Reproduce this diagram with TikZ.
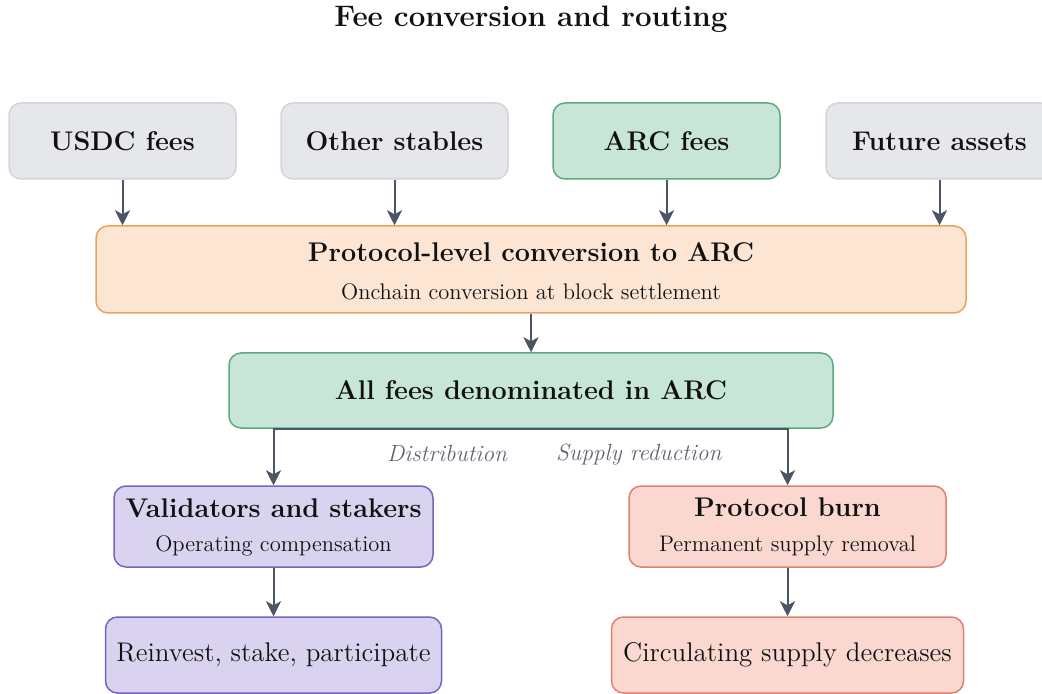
\documentclass[tikz,border=0pt]{standalone}
\usetikzlibrary{arrows.meta}
\definecolor{grayfill}{HTML}{E5E7EB}
\definecolor{graydraw}{HTML}{D1D5DB}
\definecolor{greenfill}{HTML}{C8E6D7}
\definecolor{greendraw}{HTML}{5DAA7E}
\definecolor{orangefill}{HTML}{FDE5D3}
\definecolor{orangedraw}{HTML}{E9A35E}
\definecolor{purplefill}{HTML}{DAD3F0}
\definecolor{purpledraw}{HTML}{7664C0}
\definecolor{redfill}{HTML}{FAD8D0}
\definecolor{reddraw}{HTML}{E0806E}
\definecolor{arrowcol}{HTML}{4B5563}
\definecolor{labelcol}{HTML}{5F6673}
\definecolor{textcol}{HTML}{111111}
\tikzset{
  box/.style={rectangle, rounded corners=6pt, line width=0.75pt, inner sep=0pt},
  graybox/.style={box, fill=grayfill, draw=graydraw},
  greenbox/.style={box, fill=greenfill, draw=greendraw},
  orangebox/.style={box, fill=orangefill, draw=orangedraw},
  purplebox/.style={box, fill=purplefill, draw=purpledraw},
  redbox/.style={box, fill=redfill, draw=reddraw},
  titletxt/.style={font=\fontsize{14.8}{17}\selectfont\bfseries, text=textcol, inner sep=0pt},
  boldtxt/.style={font=\fontsize{13.5}{15}\selectfont\bfseries, text=textcol, inner sep=0pt},
  subtxt/.style={font=\fontsize{11.25}{13}\selectfont, text=textcol, inner sep=0pt},
  bigtxt/.style={font=\fontsize{13.5}{15}\selectfont, text=textcol, inner sep=0pt},
  edgelbl/.style={font=\fontsize{11.7}{13}\selectfont\itshape, text=labelcol, inner sep=0pt},
  arr/.style={draw=arrowcol, line width=1pt, -{Stealth[length=7.5pt, width=7.5pt, inset=2pt]}},
}
\begin{document}
\begin{tikzpicture}[x=0.5pt, y=-0.5pt]
\useasboundingbox (0,0) rectangle (1042,694);
% title
\node[titletxt] (title) at (531,19) {Fee conversion and routing};
% top row
\node[graybox, minimum width=113.5pt, minimum height=38pt] (usdc) at (122.5,141) {};
\node[boldtxt] (usdcT) at (usdc) {USDC fees};
\node[graybox, minimum width=113.5pt, minimum height=38pt] (other) at (394.5,141) {};
\node[boldtxt] (otherT) at (other) {Other stables};
\node[greenbox, minimum width=113.5pt, minimum height=38pt] (arcf) at (666.5,141) {};
\node[boldtxt] (arcfT) at (arcf) {ARC fees};
\node[graybox, minimum width=113.5pt, minimum height=38pt] (fut) at (939.5,141) {};
\node[boldtxt] (futT) at (fut) {Future assets};
% conversion
\node[orangebox, minimum width=435pt, minimum height=43.5pt] (conv) at (531,269.5) {};
\node[boldtxt] (convT) at (531,252) {Protocol-level conversion to ARC};
\node[subtxt] (convS) at (531,292) {Onchain conversion at block settlement};
% all fees
\node[greenbox, minimum width=302pt, minimum height=37.5pt] (all) at (531,390.5) {};
\node[boldtxt] (allT) at (all) {All fees denominated in ARC};
% validators
\node[purplebox, minimum width=159.5pt, minimum height=40.5pt] (val) at (273.5,526.5) {};
\node[boldtxt] (valT) at (273.5,508) {Validators and stakers};
\node[subtxt] (valS) at (273.5,546) {Operating compensation};
% burn
\node[redbox, minimum width=158.5pt, minimum height=40.5pt] (burn) at (787.5,526.5) {};
\node[boldtxt] (burnT) at (787.5,507) {Protocol burn};
\node[subtxt] (burnS) at (787.5,546) {Permanent supply removal};
% bottom
\node[purplebox, minimum width=168pt, minimum height=38pt] (reinv) at (273.5,655) {};
\node[bigtxt] (reinvT) at (reinv) {Reinvest, stake, participate};
\node[redbox, minimum width=176pt, minimum height=38pt] (circ) at (787.5,655) {};
\node[bigtxt] (circT) at (circ) {Circulating supply decreases};
% arrows
\draw[arr] (usdc.south) -- (usdc.south |- conv.north);
\draw[arr] (other.south) -- (other.south |- conv.north);
\draw[arr] (arcf.south) -- (arcf.south |- conv.north);
\draw[arr] (fut.south) -- (fut.south |- conv.north);
\draw[arr] (conv.south) -- (all.north);
\draw[arr] (all.south) -| node[edgelbl, pos=0.163, anchor=north, yshift=-8pt] (dlbl) {Distribution} (val.north);
\draw[arr] (all.south) -| node[edgelbl, pos=0.21, anchor=north, yshift=-7pt] (slbl) {Supply reduction} (burn.north);
\draw[arr] (val.south) -- (reinv.north);
\draw[arr] (burn.south) -- (circ.north);
\end{tikzpicture}
\end{document}
